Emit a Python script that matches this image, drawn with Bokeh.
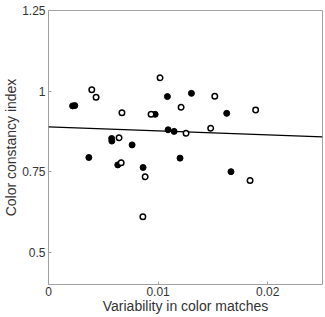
from bokeh.plotting import figure
from bokeh.models import LinearAxis, FixedTicker, Range1d
from bokeh.embed import file_html
from bokeh.resources import INLINE

# Filled circles
filled_x = [0.0022, 0.0024, 0.00368, 0.00576, 0.00578, 0.00632, 0.00763, 0.00863,
            0.00973, 0.01085, 0.01091, 0.01146, 0.0120, 0.01304, 0.01626, 0.01665]
filled_y = [0.954, 0.955, 0.794, 0.853, 0.845, 0.771, 0.833, 0.763,
            0.928, 0.983, 0.880, 0.875, 0.792, 0.993, 0.931, 0.750]
# Open circles
open_x = [0.00395, 0.00434, 0.00644, 0.00663, 0.0067, 0.00861, 0.00882, 0.00936,
          0.01018, 0.0121, 0.01255, 0.0148, 0.01517, 0.01839, 0.0189]
open_y = [1.004, 0.981, 0.855, 0.778, 0.933, 0.610, 0.734, 0.928,
          1.041, 0.950, 0.869, 0.885, 0.984, 0.723, 0.941]
# Fitted line (intercept, slope)
fit_intercept = 0.889
fit_slope = -1.24

x_ticks = [0, 0.01, 0.02]
x_tick_labels = ["0", "0.01", "0.02"]
y_ticks = [0.5, 0.75, 1.0, 1.25]
y_tick_labels = ["0.5", "0.75", "1", "1.25"]
x_range = (0, 0.025)
y_range = (0.4, 1.25)

p = figure(width=325, height=317, output_backend="svg", toolbar_location=None,
           x_range=Range1d(*x_range), y_range=Range1d(*y_range),
           min_border_left=48, min_border_right=3, min_border_top=10, min_border_bottom=33)
p.grid.visible = False
p.outline_line_color = "#a0a0a0"
p.background_fill_color = "white"
p.border_fill_color = "white"

line_x = [x_range[0], x_range[1]]
line_y = [fit_intercept + fit_slope * v for v in line_x]
p.line(line_x, line_y, line_color="black", line_width=1.3)

p.scatter(filled_x, filled_y, size=6, fill_color="black", line_color="black", line_width=1)
p.scatter(open_x, open_y, size=5.5, fill_color="white", line_color="black", line_width=1.5)

for ax in (p.xaxis[0], p.yaxis[0]):
    ax.axis_line_color = None
    ax.major_tick_line_color = "#a0a0a0"
    ax.major_tick_in = 3
    ax.major_tick_out = 0
    ax.minor_tick_line_color = None
    ax.major_label_text_font = "Liberation Sans"
    ax.major_label_text_font_size = "12px"
    ax.major_label_text_color = "#333333"
    ax.axis_label_text_font = "Liberation Sans"
    ax.axis_label_text_font_size = "14px"
    ax.axis_label_text_font_style = "normal"
    ax.axis_label_text_color = "#333333"

p.xaxis[0].ticker = FixedTicker(ticks=x_ticks)
p.xaxis[0].major_label_overrides = {t: l for t, l in zip(x_ticks, x_tick_labels)}
p.yaxis[0].ticker = FixedTicker(ticks=y_ticks)
p.yaxis[0].major_label_overrides = {t: l for t, l in zip(y_ticks, y_tick_labels)}
p.xaxis[0].axis_label = "Variability in color matches"
p.yaxis[0].axis_label = "Color constancy index"
p.xaxis[0].major_label_standoff = 2
p.xaxis[0].axis_label_standoff = -1
p.yaxis[0].major_label_standoff = 3
p.yaxis[0].axis_label_standoff = 0

out = file_html(p, INLINE)
open("out.html", "w").write(out)
